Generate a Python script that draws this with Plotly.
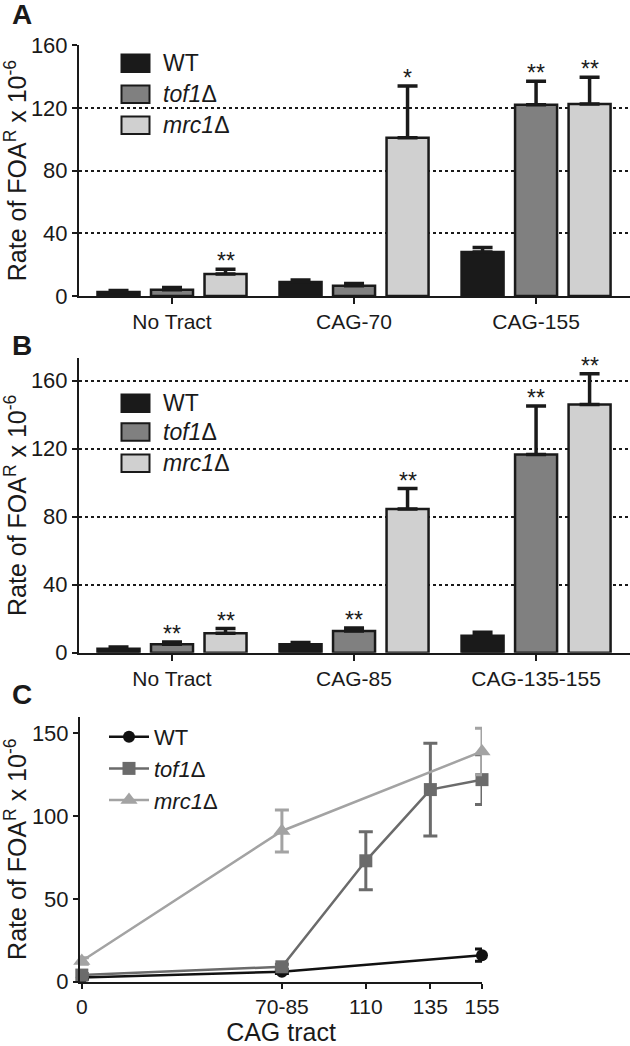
import plotly.graph_objects as go

W, H = 630, 1046
FONT = "Liberation Sans, Arial, Helvetica, sans-serif"

# ---------------- data ----------------
series_names = ["WT", "<i>tof1</i>Δ", "<i>mrc1</i>Δ"]
bar_colors = ["#1a1a1a", "#808080", "#d0d0d0"]

cats_A = ["No Tract", "CAG-70", "CAG-155"]
A_wt = [2.5, 9, 28]
A_wt_err = [1, 1.2, 3]
A_tof1 = [4, 6.5, 122]
A_tof1_err = [1.5, 1.5, 15]
A_mrc1 = [14, 101, 122.5]
A_mrc1_err = [3, 33, 17]
A_stars_wt = ["", "", ""]
A_stars_tof1 = ["", "", "**"]
A_stars_mrc1 = ["**", "*", "**"]

cats_B = ["No Tract", "CAG-85", "CAG-135-155"]
B_wt = [2.3, 5, 10]
B_wt_err = [1, 1, 2]
B_tof1 = [5, 12.7, 116.5]
B_tof1_err = [1.3, 1.8, 28.5]
B_mrc1 = [11.5, 84.5, 146]
B_mrc1_err = [2.7, 12, 18]
B_stars_wt = ["", "", ""]
B_stars_tof1 = ["**", "**", "**"]
B_stars_mrc1 = ["**", "**", "**"]

bar_ticks = [0, 40, 80, 120, 160]

C_tick_pos = [0, 77.5, 110, 135, 155]
C_tick_text = ["0", "70-85", "110", "135", "155"]
C_wt_x = [0, 77.5, 155]
C_wt_y = [2.5, 6, 16]
C_wt_err = [1, 1, 3.7]
C_tof1_x = [0, 77.5, 110, 135, 155]
C_tof1_y = [4, 9, 73, 116, 122]
C_tof1_err = [1, 1.5, 17.5, 28, 15]
C_mrc1_x = [0, 77.5, 155]
C_mrc1_y = [12.5, 91, 139]
C_mrc1_err = [2, 12.7, 14]
C_ticks = [0, 50, 100, 150]

# ---------------- layout helpers ----------------
STEP = 53.5 / 182      # group slot (fraction of category spacing)
BARW = 42 / 182        # bar width (fraction of category spacing)


def px_x(p):
    return p / W


def px_y(p):
    return 1 - p / H


fig = go.Figure()


def add_bar_panel(cats, vals, errs, stars, xa, ya):
    n = len(cats)
    for k in range(3):
        xs = [i + (k - 1) * STEP for i in range(n)]
        fig.add_trace(go.Bar(
            x=xs, y=vals[k], width=[BARW] * n,
            marker=dict(color=bar_colors[k], line=dict(color="#1a1a1a", width=2.5)),
            error_y=dict(type="data", array=errs[k], arrayminus=[0] * n,
                         symmetric=False, color="#1a1a1a", thickness=3.5, width=10),
            showlegend=False, xaxis=xa, yaxis=ya, name=series_names[k],
        ))
        for i in range(n):
            if stars[k][i]:
                fig.add_annotation(
                    x=xs[i], y=vals[k][i] + errs[k][i], xref=xa, yref=ya,
                    text=stars[k][i], showarrow=False, yanchor="bottom",
                    yshift=-7, font=dict(size=23, color="#1a1a1a", family=FONT))


add_bar_panel(cats_A, [A_wt, A_tof1, A_mrc1], [A_wt_err, A_tof1_err, A_mrc1_err],
              [A_stars_wt, A_stars_tof1, A_stars_mrc1], "x", "y")
add_bar_panel(cats_B, [B_wt, B_tof1, B_mrc1], [B_wt_err, B_tof1_err, B_mrc1_err],
              [B_stars_wt, B_stars_tof1, B_stars_mrc1], "x2", "y2")

line_colors = ["#111111", "#6b6b6b", "#a3a3a3"]
symbols = ["circle", "square", "triangle-up"]
sizes = [12, 13, 15]
for k, (xs, ys, es) in enumerate([(C_wt_x, C_wt_y, C_wt_err),
                                  (C_tof1_x, C_tof1_y, C_tof1_err),
                                  (C_mrc1_x, C_mrc1_y, C_mrc1_err)]):
    fig.add_trace(go.Scatter(
        x=xs, y=ys, mode="lines+markers", name=series_names[k],
        line=dict(color=line_colors[k], width=2.5),
        marker=dict(symbol=symbols[k], size=sizes[k], color=line_colors[k]),
        error_y=dict(type="data", array=es, color=line_colors[k], thickness=3, width=7),
        cliponaxis=False, xaxis="x3", yaxis="y3", legend="legend",
    ))

ytitle = "Rate of FOA<sup>R</sup> x 10<sup>-6</sup>"
TITLE_FONT = dict(size=25, family=FONT, color="#1a1a1a")
axis_common = dict(showline=True, linecolor="#1a1a1a", linewidth=2, ticks="outside",
                   tickcolor="#1a1a1a", tickwidth=2, zeroline=False, automargin=False)
ytick_font = dict(size=22, color="#1a1a1a", family=FONT)
xtick_font = dict(size=21, color="#1a1a1a", family=FONT)
grid = dict(showgrid=True, gridcolor="#1a1a1a", gridwidth=2, griddash="dot")

fig.update_layout(
    template="none",
    width=W, height=H, margin=dict(l=0, r=0, t=0, b=0, pad=0),
    paper_bgcolor="white", plot_bgcolor="white",
    font=dict(family=FONT, color="#1a1a1a"),
    xaxis=dict(domain=[px_x(79), 1], range=[-0.511, 2.516], tickvals=[0, 1, 2],
               ticktext=cats_A, ticklen=6, anchor="y", showgrid=False,
               tickfont=xtick_font, **axis_common),
    yaxis=dict(domain=[px_y(296), px_y(45.2)], range=[0, 160], tickvals=bar_ticks,
               ticklen=5, anchor="x", tickfont=ytick_font, **grid, **axis_common,
               title=dict(text=ytitle, font=TITLE_FONT, standoff=6)),
    xaxis2=dict(domain=[px_x(79), 1], range=[-0.511, 2.516], tickvals=[0, 1, 2],
                ticktext=cats_B, ticklen=6, anchor="y2", showgrid=False,
                tickfont=xtick_font, **axis_common),
    yaxis2=dict(domain=[px_y(652.7), px_y(358)], range=[0, 173.3], tickvals=bar_ticks,
                ticklen=5, anchor="x2", tickfont=ytick_font, **grid, **axis_common,
                title=dict(text=ytitle, font=TITLE_FONT, standoff=6)),
    xaxis3=dict(domain=[px_x(80), px_x(482)], range=[-0.7, 155], tickvals=C_tick_pos,
                ticktext=C_tick_text, ticklen=5, anchor="y3", showgrid=False,
                tickfont=xtick_font,
                title=dict(text="CAG tract", font=TITLE_FONT, standoff=4),
                **axis_common),
    yaxis3=dict(domain=[px_y(981.7), px_y(716.7)], range=[0, 160], tickvals=C_ticks,
                ticklen=5, anchor="x3", showgrid=False, tickfont=ytick_font, **axis_common,
                title=dict(text=ytitle, font=TITLE_FONT, standoff=6)),
    legend=dict(x=px_x(104), y=px_y(716), xanchor="left", yanchor="top",
                bgcolor="rgba(0,0,0,0)", font=dict(size=22, family=FONT, color="#1a1a1a"),
                tracegroupgap=0, itemwidth=40),
    showlegend=True,
)

# custom legends for the bar panels (swatch + label)
for rows in [[54, 85, 116], [394, 422.7, 454]]:
    for k, y0 in enumerate(rows):
        fig.add_shape(type="rect", xref="paper", yref="paper",
                      x0=px_x(121.5), x1=px_x(149.5), y0=px_y(y0 + 18), y1=px_y(y0 + 0.5),
                      fillcolor=bar_colors[k], line=dict(color="#1a1a1a", width=2))
        fig.add_annotation(xref="paper", yref="paper", x=px_x(161), y=px_y(y0 + 9),
                           text=series_names[k], showarrow=False, xanchor="left",
                           yanchor="middle", font=dict(size=23, family=FONT, color="#1a1a1a"))

# panel letters
for letter, y in [("A", 15), ("B", 346), ("C", 694)]:
    fig.add_annotation(xref="paper", yref="paper", x=px_x(10), y=px_y(y), text=f"<b>{letter}</b>",
                       showarrow=False, xanchor="left", yanchor="middle",
                       font=dict(size=28, family=FONT, color="#1a1a1a"))

fig.write_html("out.html", config={"displayModeBar": False},
               post_script="document.body.style.margin='0';")
